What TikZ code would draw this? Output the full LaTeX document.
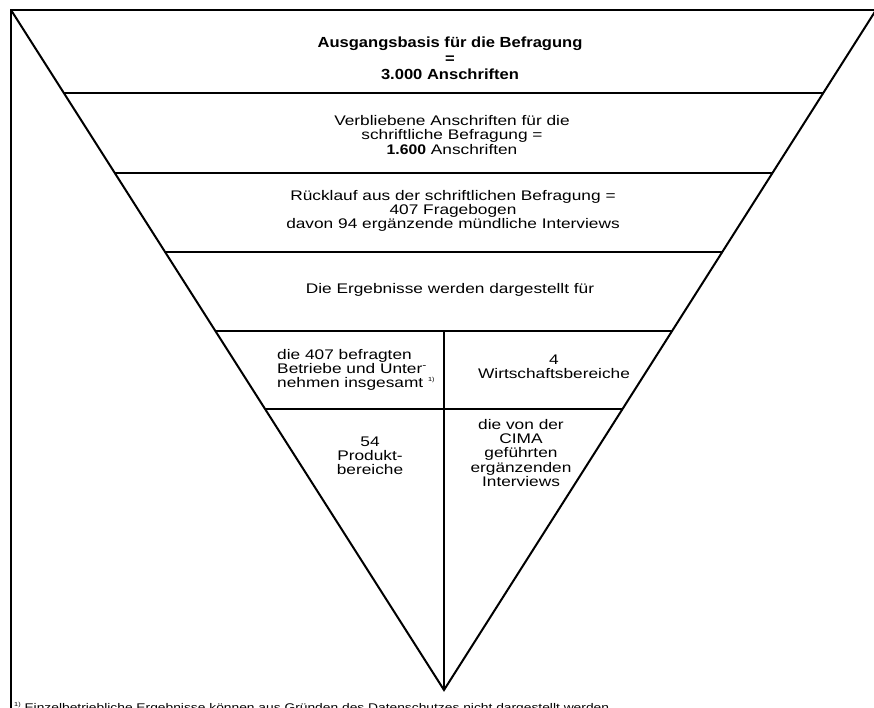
\documentclass[tikz,border=0pt]{standalone}
\usepackage{fontspec}
\setmainfont{Liberation Sans}[FakeStretch=1.24,BoldFeatures={FakeStretch=1.13}]
\usetikzlibrary{calc}
\newcommand{\fnmark}{\raisebox{.8ex}{\fontsize{5}{5}\selectfont 1)}}
\begin{document}
\begin{tikzpicture}[x=0.03cm, y=-0.03cm, every node/.style={font=\fontsize{11.9}{12.1}\selectfont, align=center, inner sep=0pt}]
\useasboundingbox (0,0) rectangle (874,708);
\coordinate (TL) at (11,10); \coordinate (TR) at (876,10); \coordinate (A) at (444,690);
\coordinate (BL) at (11,730); \coordinate (TE) at (890,10);
\draw[line width=0.075cm] (BL) -- (TL) -- (TE);
\draw[line width=0.06cm] (TL) -- (A) -- (TR);
\foreach \y [count=\i] in {93,173,252,331,409}
  \draw[line width=0.04cm] ($(TL)!{(\y-10)/680}!(A)$) coordinate (L\i) -- ($(TR)!{(\y-10)/680}!(A)$) coordinate (R\i);
\draw[line width=0.035cm] (A |- L4) coordinate (M) -- (A);
\node[font=\fontsize{12.5}{13.5}\selectfont\bfseries] (basis) at (450,58) {Ausgangsbasis für die Befragung\\=\\3.000 Anschriften};
\node (rest) at (452,135) {Verbliebene Anschriften für die\\schriftliche Befragung =\\\textbf{1.600} Anschriften};
\node (ruecklauf) at (453,211) {Rücklauf aus der schriftlichen Befragung =\\407 Fragebogen\\davon 94 ergänzende mündliche Interviews};
\node (ergebnis) at (450,290) {Die Ergebnisse werden dargestellt für};
\node[anchor=west, align=left] (betriebe) at (277,370) {die 407 befragten\\Betriebe und Unter\textsuperscript{-}\\nehmen insgesamt \fnmark};
\node (wirtschaft) at (554,367) {4\\Wirtschaftsbereiche};
\node (produkt) at (370,456) {54\\Produkt-\\bereiche};
\node (cima) at (521,453) {die von der\\CIMA\\geführten\\ergänzenden\\Interviews};
\node[anchor=base west, align=left, font=\fontsize{9.5}{10}\selectfont] (fussnote) at (14,711) {\fnmark\ Einzelbetriebliche Ergebnisse können aus Gründen des Datenschutzes nicht dargestellt werden};
\end{tikzpicture}
\end{document}
